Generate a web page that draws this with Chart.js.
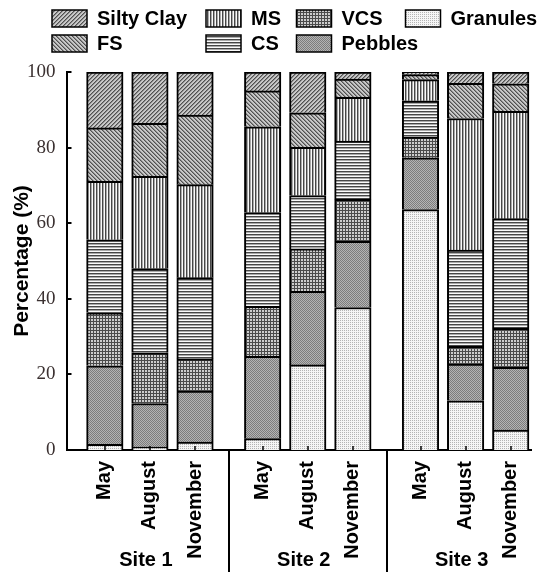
<!DOCTYPE html>
<html><head><meta charset="utf-8">
<script src="https://cdn.jsdelivr.net/npm/chart.js@4.4.1/dist/chart.umd.min.js"></script>
<style>html,body{margin:0;padding:0;background:#fff;overflow:hidden}canvas{display:block}</style>
</head><body>
<canvas id="c" width="547" height="572"></canvas>
<script>
const months = ['May', 'August', 'November'];
const sites = ['Site 1', 'Site 2', 'Site 3'];
const granules  = [1.5, 0.8, 2.1,   3.0, 22.5, 37.7,  63.6, 13.0, 5.3];
const pebbles   = [20.8, 11.5, 13.5, 21.8, 19.5, 17.5, 13.7, 9.7, 16.6];
const vcs       = [14.0, 13.4, 8.5,  13.2, 11.2, 11.1, 5.5, 4.7, 10.3];
const cs        = [19.3, 22.3, 21.5, 24.8, 14.1, 15.4, 9.6, 25.5, 29.0];
const ms        = [15.5, 24.4, 24.6, 22.7, 12.8, 11.6, 5.6, 34.8, 28.4];
const fs        = [14.1, 14.0, 18.4, 9.5, 9.1, 4.8,   1.3, 9.3, 7.3];
const siltyClay = [14.8, 13.6, 11.4, 5.0, 10.8, 1.9,  0.7, 3.0, 3.1];
const yTicks = [0, 20, 40, 60, 80, 100];

const canvas = document.getElementById('c');
const mainCtx = canvas.getContext('2d');
function tile(w, h, fn) {
  const c = document.createElement('canvas'); c.width = w; c.height = h;
  const g = c.getContext('2d'); const img = g.createImageData(w, h);
  for (let yy = 0; yy < h; yy++) for (let xx = 0; xx < w; xx++) {
    const v = fn(xx, yy); const k = (yy * w + xx) * 4;
    img.data[k] = img.data[k + 1] = img.data[k + 2] = v; img.data[k + 3] = 255;
  }
  g.putImageData(img, 0, 0);
  return mainCtx.createPattern(c, 'repeat');
}
const P = {
  sc: tile(4, 4, (x, y) => [80, 140, 200, 200][(x + y) % 4]),
  fs: tile(4, 4, (x, y) => [80, 140, 200, 200][((x - y) % 4 + 4) % 4]),
  ms: tile(3, 1, (x) => [70, 170, 250][x]),
  cs: tile(1, 3, (x, y) => [70, 170, 250][y]),
  vcs: tile(3, 3, (x, y) => (x % 3 === 0 || y % 3 === 0) ? 75 : 205),
  peb: tile(2, 2, (x, y) => ((x + y) % 2 === 0) ? 125 : 180),
  gran: tile(2, 2, (x, y) => (x % 2 === 0 && y % 2 === 0) ? 180 : 245)
};

const pos = i => i * 2 + Math.floor(i / 3);
const barLabels = [];
sites.forEach(s => months.forEach(m => barLabels.push(s + ' ' + m)));
const toPts = arr => arr.map((v, i) => ({ x: pos(i), y: v }));

const series = [
  { label: 'Granules', data: granules, bg: P.gran },
  { label: 'Pebbles', data: pebbles, bg: P.peb },
  { label: 'VCS', data: vcs, bg: P.vcs },
  { label: 'CS', data: cs, bg: P.cs },
  { label: 'MS', data: ms, bg: P.ms },
  { label: 'FS', data: fs, bg: P.fs },
  { label: 'Silty Clay', data: siltyClay, bg: P.sc }
];

const FONT = '"Liberation Sans", Arial, sans-serif';

const deco = {
  id: 'deco',
  afterDraw(chart) {
    const ctx = chart.ctx, x = chart.scales.x, y = chart.scales.y, ca = chart.chartArea;
    ctx.save();
    ctx.strokeStyle = '#000'; ctx.lineWidth = 2;
    yTicks.forEach(v => {
      const py = Math.round(y.getPixelForValue(v));
      ctx.beginPath(); ctx.moveTo(ca.left, py); ctx.lineTo(ca.left + 5, py); ctx.stroke();
    });
    ctx.lineWidth = 1.5;
    barLabels.forEach((b, i) => {
      const px = Math.round(x.getPixelForValue(pos(i)));
      ctx.beginPath(); ctx.moveTo(px, ca.bottom); ctx.lineTo(px, ca.bottom - 4); ctx.stroke();
    });
    ctx.lineWidth = 2;
    [5.5, 12.5].forEach(v => {
      const px = Math.round(x.getPixelForValue(v));
      ctx.beginPath(); ctx.moveTo(px, ca.bottom); ctx.lineTo(px, chart.height); ctx.stroke();
    });
    ctx.fillStyle = '#000'; ctx.font = 'bold 20px ' + FONT;
    ctx.textAlign = 'center'; ctx.textBaseline = 'middle';
    sites.forEach((s, g) => ctx.fillText(s, x.getPixelForValue(pos(g * 3 + 1)) - 4, 560));
    // legend
    const layout = {
      'Silty Clay': [52, 10], 'MS': [206, 10], 'VCS': [296.5, 10], 'Granules': [405.5, 10],
      'FS': [52, 35], 'CS': [206, 35], 'Pebbles': [296.5, 35]
    };
    ctx.textAlign = 'left';
    chart.data.datasets.forEach(ds => {
      const [lx, ly] = layout[ds.label];
      ctx.fillStyle = ds.backgroundColor;
      ctx.fillRect(lx, ly, 35, 17);
      ctx.lineWidth = 1.5; ctx.strokeStyle = '#000';
      ctx.strokeRect(lx, ly, 35, 17);
      ctx.fillStyle = '#000';
      ctx.fillText(ds.label, lx + 45, ly + 9.5);
    });
    ctx.restore();
  }
};

new Chart(canvas, {
  type: 'bar',
  data: {
    datasets: series.map(s => ({
      label: s.label, data: toPts(s.data), backgroundColor: s.bg,
      borderColor: '#000', borderWidth: 2, barThickness: 36.5
    }))
  },
  options: {
    responsive: false, animation: false, devicePixelRatio: 1,
    layout: { padding: { top: 72, right: 16, left: 0, bottom: 0 } },
    plugins: { legend: { display: false }, tooltip: { enabled: false } },
    scales: {
      x: {
        type: 'linear', stacked: true, min: -1.7, max: 18.9, offset: false,
        grid: { display: false, drawTicks: false },
        border: { display: true, color: '#000', width: 2 },
        afterBuildTicks: a => { a.ticks = barLabels.map((b, i) => ({ value: pos(i) })); },
        afterFit: a => { a.height = 122; },
        ticks: {
          autoSkip: false, minRotation: 90, maxRotation: 90, padding: 11,
          color: '#000', font: { family: FONT, size: 20, weight: 'bold' },
          callback: (v, i) => months[i % 3]
        }
      },
      y: {
        stacked: true, min: 0, max: 100,
        grid: { display: false, drawTicks: false },
        border: { display: true, color: '#000', width: 2 },
        afterBuildTicks: a => { a.ticks = yTicks.map(v => ({ value: v })); },
        afterFit: a => { a.width = 66.5; },
        ticks: { padding: 11, color: '#3a3030', font: { family: '"Liberation Serif", "Times New Roman", serif', size: 19 } },
        title: {
          display: true, text: 'Percentage (%)', color: '#000',
          font: { family: FONT, size: 21, weight: 'bold' }, padding: { top: 10, bottom: 0 }
        }
      }
    }
  },
  plugins: [deco]
});
</script>
</body></html>
